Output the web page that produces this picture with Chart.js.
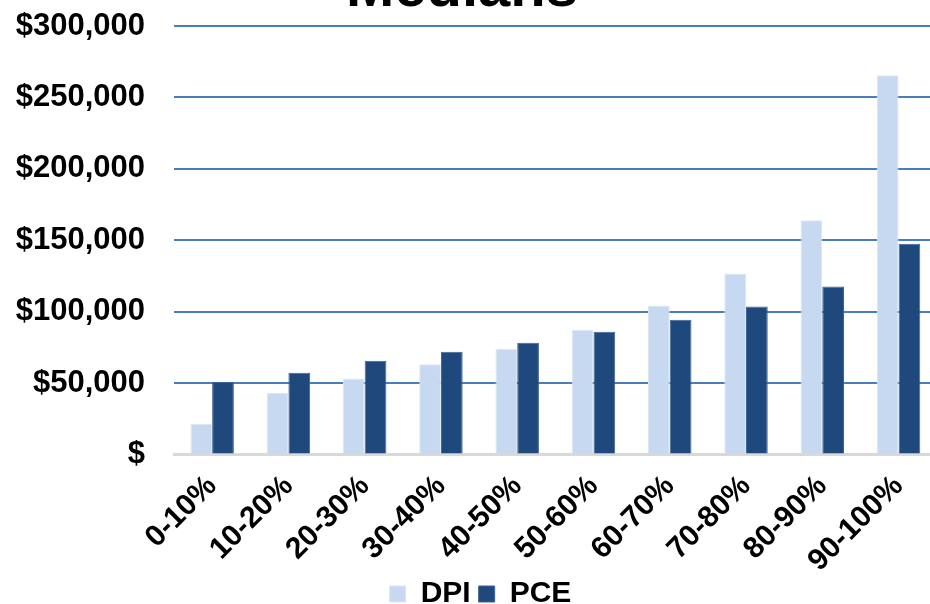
<!DOCTYPE html>
<html>
<head>
<meta charset="utf-8">
<script src="https://cdn.jsdelivr.net/npm/chart.js@4"></script>
<style>
  html, body { margin: 0; padding: 0; background: #ffffff; overflow: hidden; }
  #wrap { width: 930px; height: 604px; overflow: hidden; position: relative; }
  canvas { display: block; }
</style>
</head>
<body>
<div id="wrap"><canvas id="c" width="938" height="619"></canvas></div>
<script>
// Income deciles and the median DPI / PCE per decile (US dollars)
const categories = ['0-10%', '10-20%', '20-30%', '30-40%', '40-50%', '50-60%', '60-70%', '70-80%', '80-90%', '90-100%'];
const dpiValues = [21600, 43000, 53200, 63100, 74100, 87300, 104300, 126700, 164000, 265600];
const pceValues = [50700, 57200, 65700, 72000, 78300, 86000, 94400, 103600, 117600, 147600];
const yTickValues = [0, 50000, 100000, 150000, 200000, 250000, 300000];
const seriesNames = ['DPI', 'PCE'];
const chartTitle = 'Medians';

const FONT = '"Liberation Sans", Arial, Helvetica, sans-serif';
Chart.defaults.font.family = FONT;
Chart.defaults.color = '#000000';

function money(v) {
  return v === 0 ? '$' : '$' + v.toLocaleString('en-US');
}

// Large heading drawn above the plot
const headingPlugin = {
  id: 'heading',
  afterDraw(chart) {
    const ctx = chart.ctx;
    ctx.save();
    ctx.font = 'bold 58px ' + FONT;
    ctx.fillStyle = '#000000';
    ctx.textAlign = 'center';
    ctx.textBaseline = 'alphabetic';
    ctx.fillText(chartTitle, 462, 6);
    ctx.restore();
  }
};

// Nudge the legend row a little to the right of the canvas centre
const legendShift = {
  id: 'legendShift',
  afterLayout(chart) {
    if (chart.legend) {
      chart.legend.left += 5;
      chart.legend.right += 5;
    }
  }
};

new Chart(document.getElementById('c'), {
  type: 'bar',
  data: {
    labels: categories,
    datasets: [
      {
        label: seriesNames[0],
        data: dpiValues,
        backgroundColor: '#C6D9F0',
        borderColor: '#DCE7F5',
        borderWidth: 1,
        categoryPercentage: 0.57,
        barPercentage: 1.0
      },
      {
        label: seriesNames[1],
        data: pceValues,
        backgroundColor: '#1F497D',
        borderColor: '#3D6391',
        borderWidth: 1,
        categoryPercentage: 0.57,
        barPercentage: 1.0
      }
    ]
  },
  options: {
    responsive: false,
    animation: false,
    layout: { padding: { top: 26, left: 13, right: 0, bottom: 0 } },
    plugins: {
      title: { display: false },
      tooltip: { enabled: false },
      legend: {
        display: true,
        position: 'bottom',
        labels: {
          boxWidth: 16,
          boxHeight: 16,
          padding: 8,
          color: '#000000',
          font: { size: 30, weight: 'bold', family: FONT }
        }
      }
    },
    scales: {
      x: {
        grid: { display: false, drawTicks: false },
        border: { display: true, color: '#D9D9D9', width: 3 },
        ticks: {
          minRotation: 45,
          maxRotation: 45,
          padding: 14,
          color: '#000000',
          font: { size: 30, weight: 'bold', family: FONT }
        },
        afterFit(scale) { scale.height = 116.5; }
      },
      y: {
        min: 0,
        max: 300000,
        afterBuildTicks(scale) {
          scale.ticks = yTickValues.map(v => ({ value: v }));
        },
        grid: {
          drawTicks: true,
          tickLength: 29,
          tickColor: 'rgba(0,0,0,0)',
          lineWidth: 2,
          color: ctx => (ctx.tick && ctx.tick.value === 0) ? 'rgba(0,0,0,0)' : '#4A7EBB'
        },
        border: { display: false },
        ticks: {
          padding: 0,
          color: '#000000',
          font: { size: 31, weight: 'bold', family: FONT },
          callback: v => money(v)
        },
        afterFit(scale) { scale.width = 161; }
      }
    }
  },
  plugins: [headingPlugin, legendShift]
});
</script>
</body>
</html>
